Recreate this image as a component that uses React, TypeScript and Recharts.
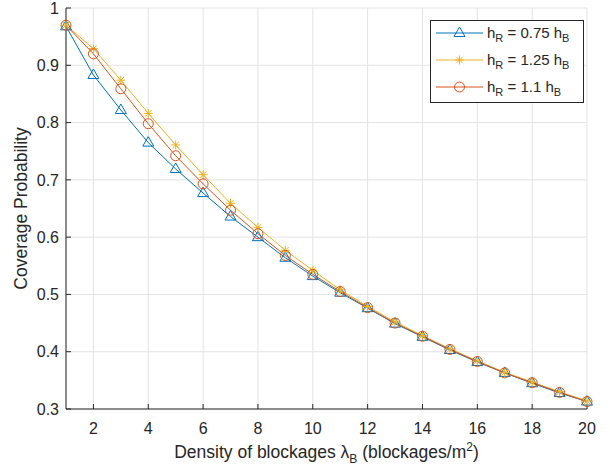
import React from "react";
import {
  LineChart,
  Line,
  XAxis,
  YAxis,
  CartesianGrid,
  Legend,
} from "recharts";

const density = [1, 2, 3, 4, 5, 6, 7, 8, 9, 10, 11, 12, 13, 14, 15, 16, 17, 18, 19, 20];
const cov075 = [0.968, 0.883, 0.822, 0.765, 0.719, 0.677, 0.636, 0.6, 0.564, 0.532, 0.503, 0.476, 0.449, 0.426, 0.403, 0.382, 0.363, 0.345, 0.328, 0.313];
const cov125 = [0.97, 0.929, 0.874, 0.816, 0.761, 0.709, 0.659, 0.617, 0.577, 0.542, 0.508, 0.479, 0.452, 0.428, 0.405, 0.384, 0.364, 0.347, 0.33, 0.314];
const cov110 = [0.97, 0.92, 0.859, 0.798, 0.742, 0.693, 0.647, 0.606, 0.568, 0.535, 0.505, 0.477, 0.45, 0.427, 0.404, 0.383, 0.363, 0.346, 0.329, 0.313];
const xTicks = [2, 4, 6, 8, 10, 12, 14, 16, 18, 20];
const yTicks = [0.3, 0.4, 0.5, 0.6, 0.7, 0.8, 0.9, 1];
const seriesLabels = ["0.75", "1.25", "1.1"];

const data = density.map((d, i) => ({
  d,
  a: cov075[i],
  b: cov125[i],
  c: cov110[i],
}));

const BLUE = "#0072BD";
const YELLOW = "#EDB120";
const RED = "#D95319";
const INK = "#262626";
const FONT = "'Liberation Sans', Arial, Helvetica, sans-serif";

function Triangle({ cx, cy, color }: any) {
  return (
    <polygon
      points={`${cx},${cy - 6} ${cx - 5.5},${cy + 3.5} ${cx + 5.5},${cy + 3.5}`}
      fill="none"
      stroke={color}
      strokeWidth={1}
    />
  );
}

function Star({ cx, cy, color }: any) {
  const r = 4.5;
  const q = r * 0.72;
  return (
    <g stroke={color} strokeWidth={1}>
      <line x1={cx - r} y1={cy} x2={cx + r} y2={cy} />
      <line x1={cx} y1={cy - r} x2={cx} y2={cy + r} />
      <line x1={cx - q} y1={cy - q} x2={cx + q} y2={cy + q} />
      <line x1={cx - q} y1={cy + q} x2={cx + q} y2={cy - q} />
    </g>
  );
}

function Ring({ cx, cy, color }: any) {
  return <circle cx={cx} cy={cy} r={5} fill="none" stroke={color} strokeWidth={1} />;
}

const markers = [
  { Shape: Triangle, color: BLUE },
  { Shape: Star, color: YELLOW },
  { Shape: Ring, color: RED },
];

function LegendBox() {
  return (
    <svg width={154} height={83} style={{ display: "block" }}>
      <rect x={0.5} y={0.5} width={153} height={82} fill="#fff" stroke={INK} strokeWidth={1} />
      {markers.map((m, i) => {
        const y = 13 + i * 27;
        const Shape = m.Shape;
        return (
          <g key={i}>
            <line x1={6} y1={y} x2={53} y2={y} stroke={m.color} strokeWidth={1} />
            <Shape cx={29.5} cy={y} color={m.color} />
            <text x={57} y={y + 5} fontSize={15} fill={INK} fontFamily={FONT}>
              h
              <tspan dy={4} fontSize={11}>R</tspan>
              <tspan dy={-4}>{` = ${seriesLabels[i]} h`}</tspan>
              <tspan dy={4} fontSize={11}>B</tspan>
            </text>
          </g>
        );
      })}
    </svg>
  );
}

function xLabel(props: any) {
  const vb = props.viewBox;
  return (
    <text
      x={vb.x + vb.width / 2}
      y={vb.y + 49}
      textAnchor="middle"
      fontSize={17.5}
      fill={INK}
      fontFamily={FONT}
    >
      Density of blockages λ
      <tspan dy={5} fontSize={12}>B</tspan>
      <tspan dy={-5}> (blockages/m</tspan>
      <tspan dy={-7} fontSize={12}>2</tspan>
      <tspan dy={7}>)</tspan>
    </text>
  );
}

function yLabel(props: any) {
  const vb = props.viewBox;
  const cx = 21;
  const cy = vb.y + vb.height / 2;
  return (
    <text
      x={cx}
      y={cy}
      textAnchor="middle"
      dominantBaseline="central"
      fontSize={17.5}
      fill={INK}
      fontFamily={FONT}
      transform={`rotate(-90 ${cx} ${cy})`}
    >
      Coverage Probability
    </text>
  );
}

const tickStyle = { fill: INK, fontSize: 16, fontFamily: FONT };

export default function App() {
  const series = [
    { key: "a", color: BLUE, Shape: Triangle },
    { key: "b", color: YELLOW, Shape: Star },
    { key: "c", color: RED, Shape: Ring },
  ];
  return (
    <div
      style={{
        position: "absolute",
        left: 0,
        top: 0,
        width: 610,
        height: 472,
        background: "#fff",
        fontFamily: FONT,
      }}
    >
      <LineChart
        width={610}
        height={472}
        data={data}
        margin={{ top: 8, right: 23, left: 0, bottom: 0 }}
      >
        <CartesianGrid stroke="#e3e3e3" strokeWidth={1} />
        <XAxis
          dataKey="d"
          type="number"
          domain={[1, 20]}
          ticks={xTicks}
          interval={0}
          height={63}
          stroke={INK}
          tickSize={-5}
          tickMargin={19}
          tick={tickStyle}
          label={xLabel}
        />
        <XAxis
          xAxisId="top"
          dataKey="d"
          type="number"
          orientation="top"
          domain={[1, 20]}
          ticks={xTicks}
          interval={0}
          height={0}
          stroke={INK}
          tickSize={-5}
          tick={false}
        />
        <YAxis
          type="number"
          domain={[0.3, 1]}
          ticks={yTicks}
          interval={0}
          width={66}
          stroke={INK}
          tickSize={-5}
          tickMargin={12}
          tick={tickStyle}
          tickFormatter={(v: number) => (v === 1 ? "1" : v.toFixed(1))}
          label={yLabel}
        />
        <YAxis
          yAxisId="right"
          type="number"
          orientation="right"
          domain={[0.3, 1]}
          ticks={yTicks}
          interval={0}
          width={0}
          stroke={INK}
          tickSize={-5}
          tick={false}
        />
        <Legend
          layout="vertical"
          align="center"
          verticalAlign="middle"
          wrapperStyle={{ position: "absolute", left: 430, top: 20, width: 154, height: 83 }}
          content={() => <LegendBox />}
        />
        {series.map((s) => (
          <Line
            key={s.key}
            type="linear"
            dataKey={s.key}
            stroke={s.color}
            strokeWidth={1}
            isAnimationActive={false}
            dot={(p: any) => <s.Shape key={`${s.key}-${p.index}`} cx={p.cx} cy={p.cy} color={s.color} />}
            activeDot={false}
          />
        ))}
      </LineChart>
    </div>
  );
}
